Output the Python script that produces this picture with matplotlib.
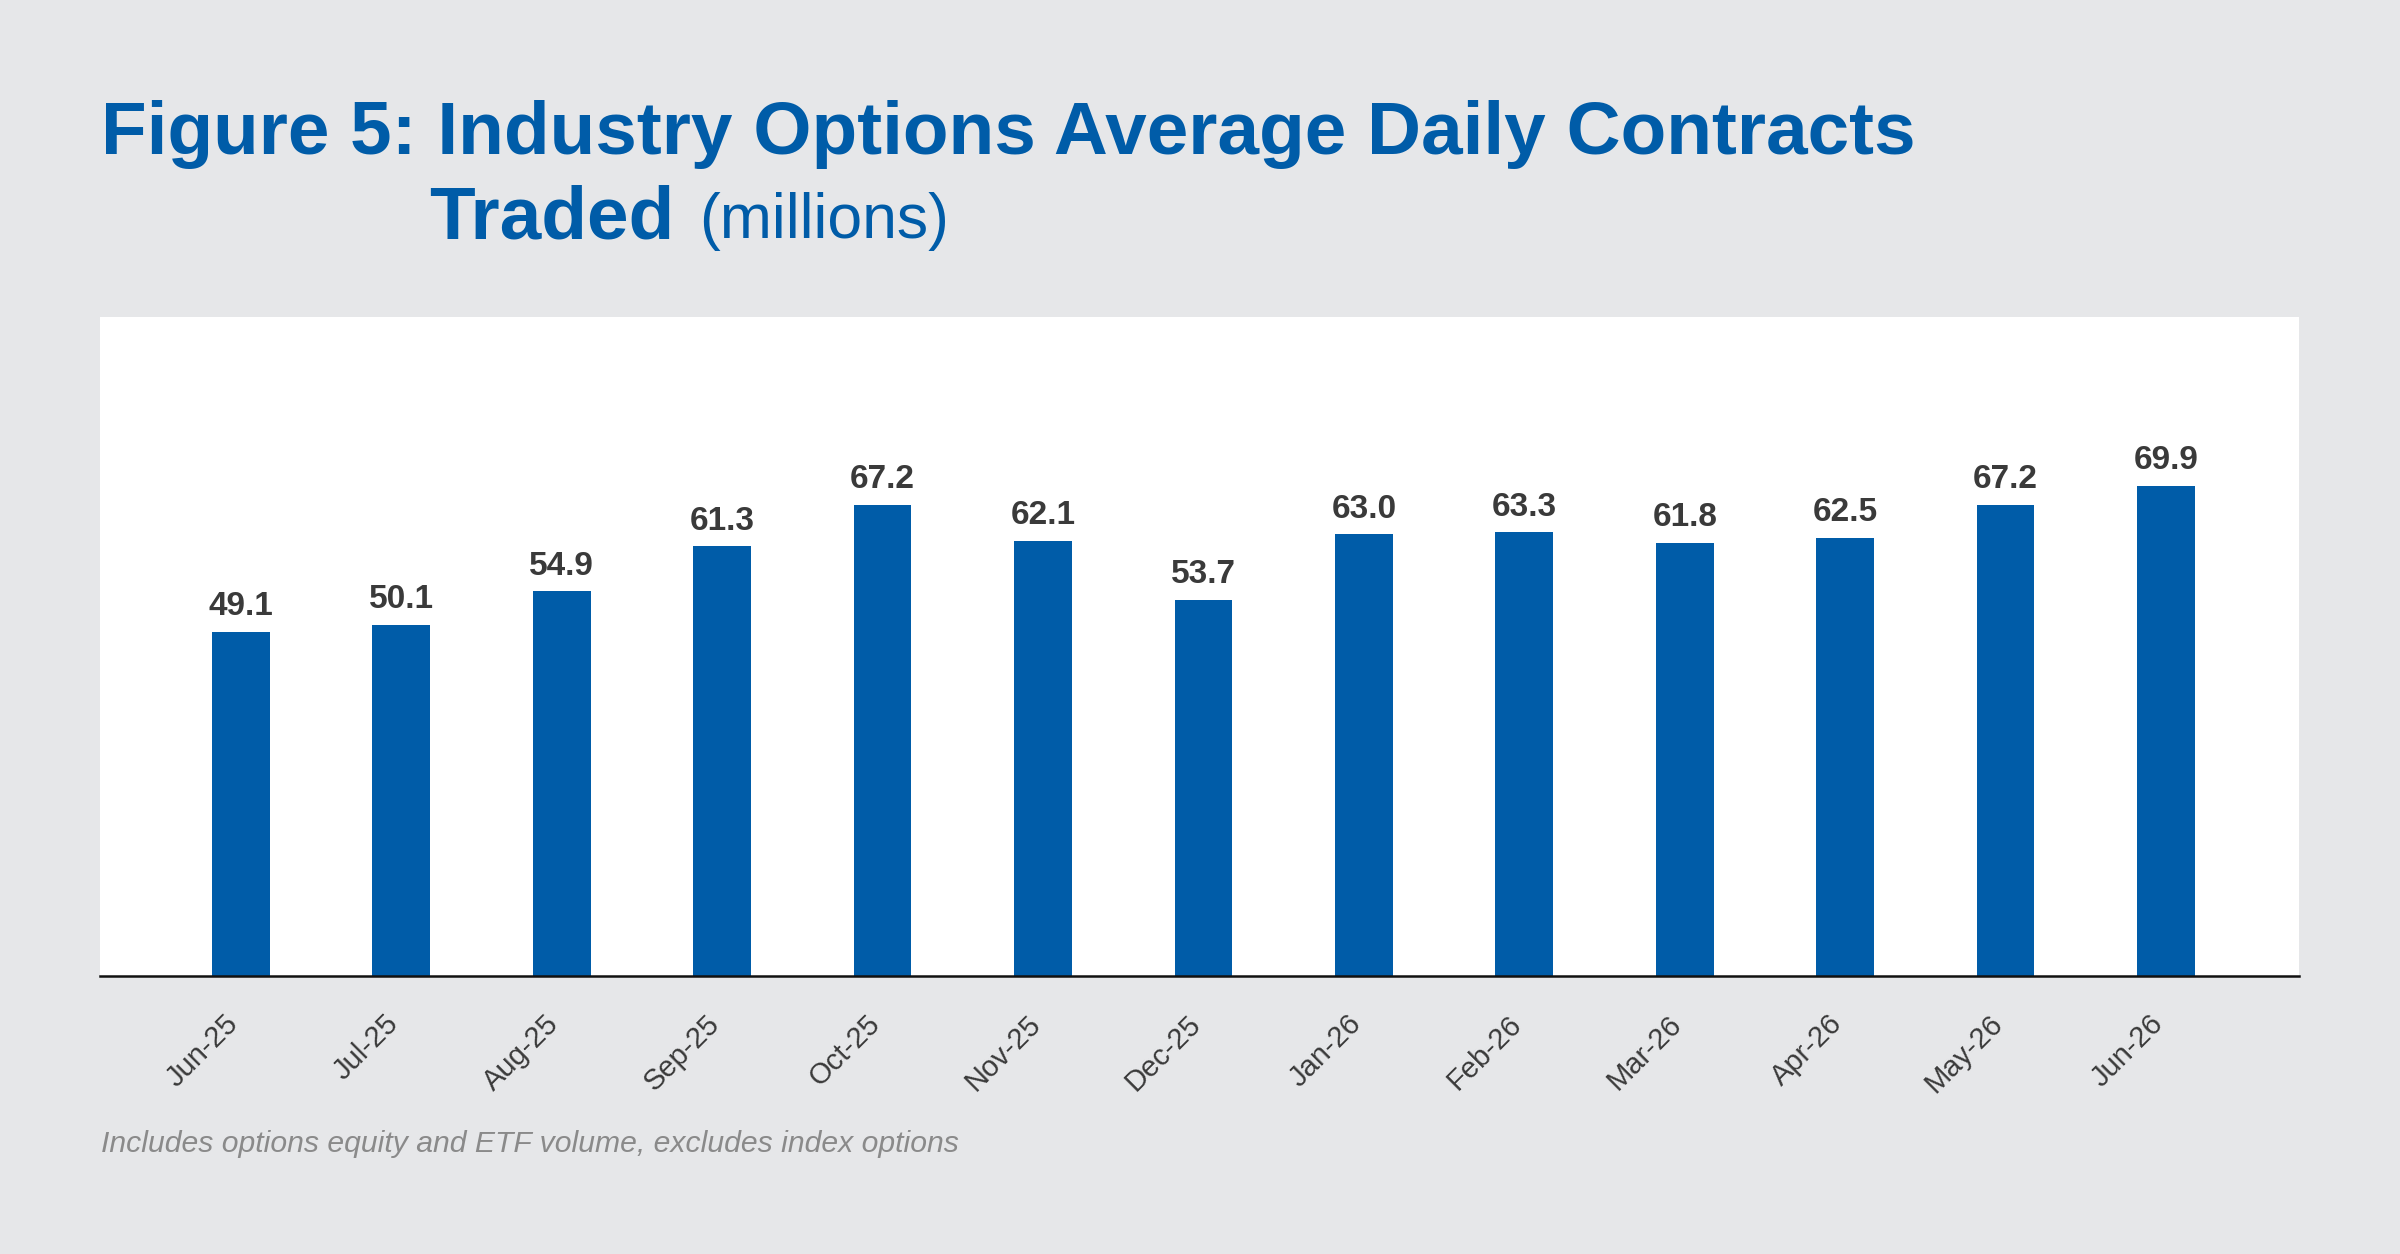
import matplotlib
matplotlib.use("Agg")
import matplotlib.pyplot as plt
from matplotlib.transforms import ScaledTranslation

# monthly average daily contracts (millions)
months = ["Jun-25", "Jul-25", "Aug-25", "Sep-25", "Oct-25", "Nov-25", "Dec-25",
          "Jan-26", "Feb-26", "Mar-26", "Apr-26", "May-26", "Jun-26"]
contracts = [49.1, 50.1, 54.9, 61.3, 67.2, 62.1, 53.7,
             63.0, 63.3, 61.8, 62.5, 67.2, 69.9]

BG = "#e6e7e9"
BLUE = "#005ca8"
TEXT = "#3a3a3a"

plt.rcParams["font.family"] = ["Liberation Sans", "DejaVu Sans"]

fig = plt.figure(figsize=(24, 12.54), dpi=100, facecolor=BG)
ax = fig.add_axes([0.0415, 0.2213, 0.9165, 0.5260])
ax.set_facecolor("white")

x = range(len(months))
bars = ax.bar(x, contracts, width=0.36, color=BLUE, zorder=2)

for b, v in zip(bars, contracts):
    ax.annotate(f"{v:.1f}", (b.get_x() + b.get_width() / 2, v),
                xytext=(0, 7), textcoords="offset points",
                ha="center", va="bottom", fontsize=24, fontweight="bold",
                color=TEXT)

ax.set_xlim(-0.88, len(months) - 1 + 0.83)
ax.set_ylim(0, 94)
ax.set_yticks([])
ax.set_xticks(list(x))
ax.set_xticklabels(months, rotation=45, ha="right", va="center",
                   rotation_mode="anchor", fontsize=21, color=TEXT)
ax.tick_params(axis="x", length=0, pad=31)
shift = ScaledTranslation(-5 / 72, 0, fig.dpi_scale_trans)
for lbl in ax.get_xticklabels():
    lbl.set_transform(lbl.get_transform() + shift)

for s in ["top", "left", "right"]:
    ax.spines[s].set_visible(False)
ax.spines["bottom"].set_color("#111111")
ax.spines["bottom"].set_linewidth(1.8)

# title block
fig.text(0.042, 0.877, "Figure 5: Industry Options Average Daily Contracts",
         fontsize=53.8, fontweight="bold", color=BLUE, ha="left", va="baseline")
t2 = fig.text(0.179, 0.810, "Traded", fontsize=53.8, fontweight="bold",
              color=BLUE, ha="left", va="baseline")
fig.canvas.draw()
bb = t2.get_window_extent()
fig.text((bb.x1 + 24) / fig.bbox.width, 0.810, "(millions)", fontsize=45,
         color=BLUE, ha="left", va="baseline")

fig.text(0.042, 0.081, "Includes options equity and ETF volume, excludes index options",
         fontsize=21.7, style="italic", color="#8a8a8a", ha="left", va="baseline")

fig.savefig("out.png", dpi=100, facecolor=BG)
